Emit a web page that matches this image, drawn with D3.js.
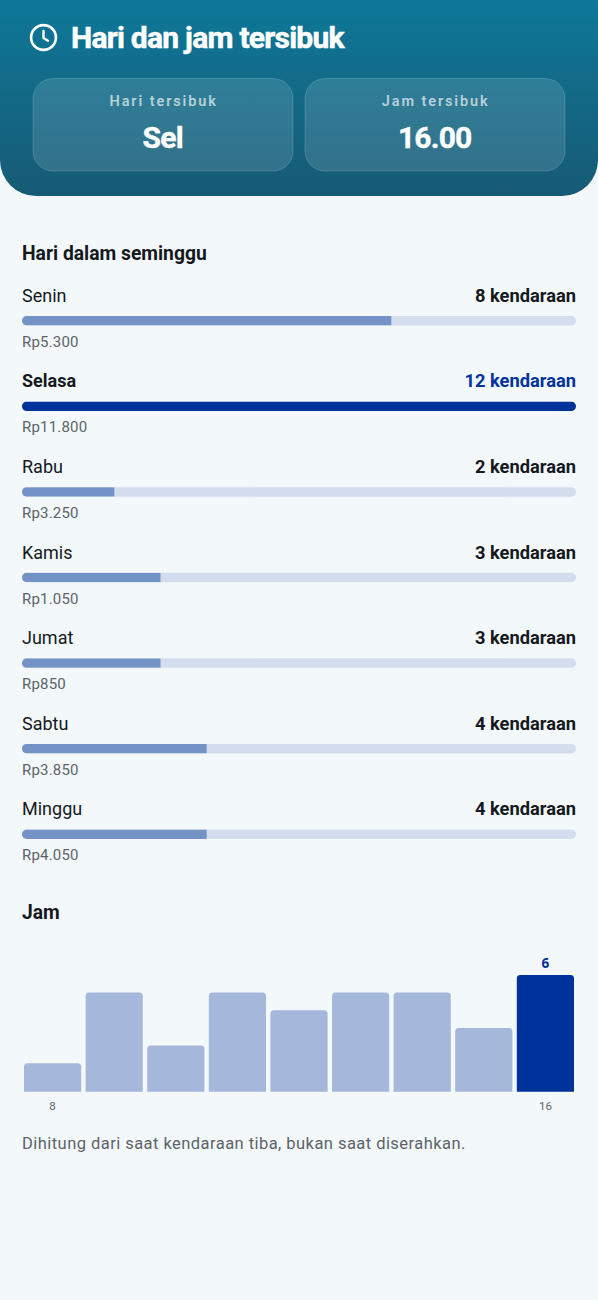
<!DOCTYPE html>
<html><head><meta charset="utf-8">
<script src="https://cdn.jsdelivr.net/npm/d3@7/dist/d3.min.js"></script>
<style>
html,body{margin:0;padding:0;background:#f3f8fb;}
svg{display:block;}
text{font-family:Roboto,sans-serif;}
</style></head><body>
<div id="chart"></div>
<script>
const days = ["Senin","Selasa","Rabu","Kamis","Jumat","Sabtu","Minggu"];
const dayCounts = [8,12,2,3,3,4,4];
const dayRevenue = ["Rp5.300","Rp11.800","Rp3.250","Rp1.050","Rp850","Rp3.850","Rp4.050"];
const hours = [8,9,10,11,12,13,14,15,16];
const hourCounts = [1,5,2,5,4,5,5,3,6];
const hourTicks = [8,16];
const title = "Hari dan jam tersibuk";
const cards = [["Hari tersibuk","Sel"],["Jam tersibuk","16.00"]];
const note = "Dihitung dari saat kendaraan tiba, bukan saat diserahkan.";

const W = 598, H = 1300, BLUE = "#00329b", INK = "#15191e", GREY = "#5c6369";
const svg = d3.select("#chart").append("svg").attr("width",W).attr("height",H);
const defs = svg.append("defs");
const g = defs.append("linearGradient").attr("id","hdr").attr("x1",0).attr("y1",0).attr("x2",0).attr("y2",1);
g.append("stop").attr("offset",0).attr("stop-color","#0e7898");
g.append("stop").attr("offset",1).attr("stop-color","#175a75");

svg.append("path").attr("fill","url(#hdr)")
  .attr("d",`M0,0H${W}V160A36,36 0 0 1 ${W-36},196H36A36,36 0 0 1 0,160Z`);

const clock = svg.append("g").attr("transform","translate(43.5,37.5)").attr("fill","none").attr("stroke","#fff").attr("stroke-linecap","round").attr("stroke-linejoin","round");
clock.append("circle").attr("r",12.4).attr("stroke-width",2.6);
clock.append("path").attr("d","M0,-6.5V0.5L4.5,3.2").attr("stroke-width",2.4);

svg.append("text").attr("x",71).attr("y",48).attr("fill","#fff").attr("stroke","#fff").attr("stroke-width",0.5).attr("font-size",30).attr("font-weight",700).attr("letter-spacing",-0.75).text(title);

const cardX = d3.scaleBand().domain(cards.map(c=>c[0])).range([33,565]).paddingInner(0.0441);
const card = svg.selectAll("g.card").data(cards).join("g").attr("class","card")
  .attr("transform",d=>`translate(${cardX(d[0])},78.5)`);
card.append("rect").attr("x",0).attr("y",0).attr("width",cardX.bandwidth()).attr("height",92.5).attr("rx",20)
  .attr("fill","#fff").attr("fill-opacity",0.125).attr("stroke","#fff").attr("stroke-opacity",0.16);
card.append("text").attr("x",cardX.bandwidth()/2+0.7).attr("y",27.5).attr("text-anchor","middle").attr("font-size",14.5).attr("font-weight",600).attr("letter-spacing",1.9).attr("fill","#fff").attr("fill-opacity",0.66).text(d=>d[0]);
card.append("text").attr("x",cardX.bandwidth()/2-0.3).attr("y",69.5).attr("text-anchor","middle").attr("font-size",30).attr("font-weight",700).attr("letter-spacing",-0.8).attr("stroke","#fff").attr("stroke-width",0.4).attr("fill","#fff").text(d=>d[1]);

svg.append("text").attr("x",22).attr("y",259.5).attr("font-size",19.3).attr("font-weight",700).attr("fill",INK).text("Hari dalam seminggu");

const maxDay = d3.max(dayCounts);
const x = d3.scaleLinear().domain([0,maxDay]).range([0,554]);
const rowY = d3.scalePoint().domain(days).range([0,513.5]);
const row = svg.selectAll("g.row").data(days.map((d,i)=>({d,c:dayCounts[i],r:dayRevenue[i]}))).join("g").attr("class","row")
  .attr("transform",d=>`translate(22,${rowY(d.d)})`);
row.append("text").attr("x",0).attr("y",301.9).attr("font-size",18).attr("font-weight",d=>d.c===maxDay?700:400).attr("fill",INK).text(d=>d.d);
row.append("text").attr("x",554).attr("y",301.9).attr("text-anchor","end").attr("font-size",18.3).attr("font-weight",700).attr("fill",d=>d.c===maxDay?BLUE:INK).text(d=>`${d.c} kendaraan`);
const clipPaths = defs.selectAll("clipPath").data(days).join("clipPath").attr("id",(d,i)=>"trk"+i);
clipPaths.append("rect").attr("x",0).attr("y",316).attr("width",554).attr("height",9.5).attr("rx",4.75);
row.append("rect").attr("x",0).attr("y",316).attr("width",554).attr("height",9.5).attr("rx",4.75).attr("fill","#d3ddee");
row.append("rect").attr("clip-path",(d,i)=>`url(#trk${i})`).attr("x",0).attr("y",316).attr("width",d=>x(d.c)).attr("height",9.5).attr("fill",d=>d.c===maxDay?BLUE:"#7592c6");
row.append("text").attr("x",0).attr("y",346.8).attr("font-size",15).attr("letter-spacing",0.2).attr("fill",GREY).text(d=>d.r);

svg.append("text").attr("x",22).attr("y",918.5).attr("font-size",19.3).attr("font-weight",700).attr("fill",INK).text("Jam");

const bx = d3.scaleBand().domain(hours).range([24,574]).paddingInner(0.0715);
const baseY = 1091.7;
const by = d3.scaleLinear().domain([0,6]).range([10.8,116.8]);
const maxH = d3.max(hourCounts);
const bars = hours.map((h,i)=>({h,c:hourCounts[i]}));
svg.selectAll("path.bar").data(bars).join("path").attr("class","bar")
  .attr("fill",d=>d.c===maxH?BLUE:"#a5b7da")
  .attr("d",d=>{
    const x0=bx(d.h),w=bx.bandwidth(),t=baseY-by(d.c),r=3.5;
    return `M${x0},${baseY}V${t+r}Q${x0},${t} ${x0+r},${t}H${x0+w-r}Q${x0+w},${t} ${x0+w},${t+r}V${baseY}Z`;
  });
svg.selectAll("text.peak").data(bars.filter(d=>d.c===maxH)).join("text").attr("class","peak")
  .attr("x",d=>bx(d.h)+bx.bandwidth()/2).attr("y",d=>baseY-by(d.c)-7).attr("text-anchor","middle")
  .style("font-family","'Noto Sans',sans-serif")
  .attr("font-size",13.5).attr("font-weight",700).attr("fill",BLUE).text(d=>d.c);
svg.selectAll("text.tick").data(hourTicks).join("text").attr("class","tick")
  .attr("x",d=>bx(d)+bx.bandwidth()/2).attr("y",1110).attr("text-anchor","middle")
  .attr("font-size",11.5).attr("fill",GREY).text(d=>d);

svg.append("text").attr("x",22).attr("y",1149).attr("font-size",16.5).attr("letter-spacing",0.45).attr("fill",GREY).text(note);
</script>
</body></html>
